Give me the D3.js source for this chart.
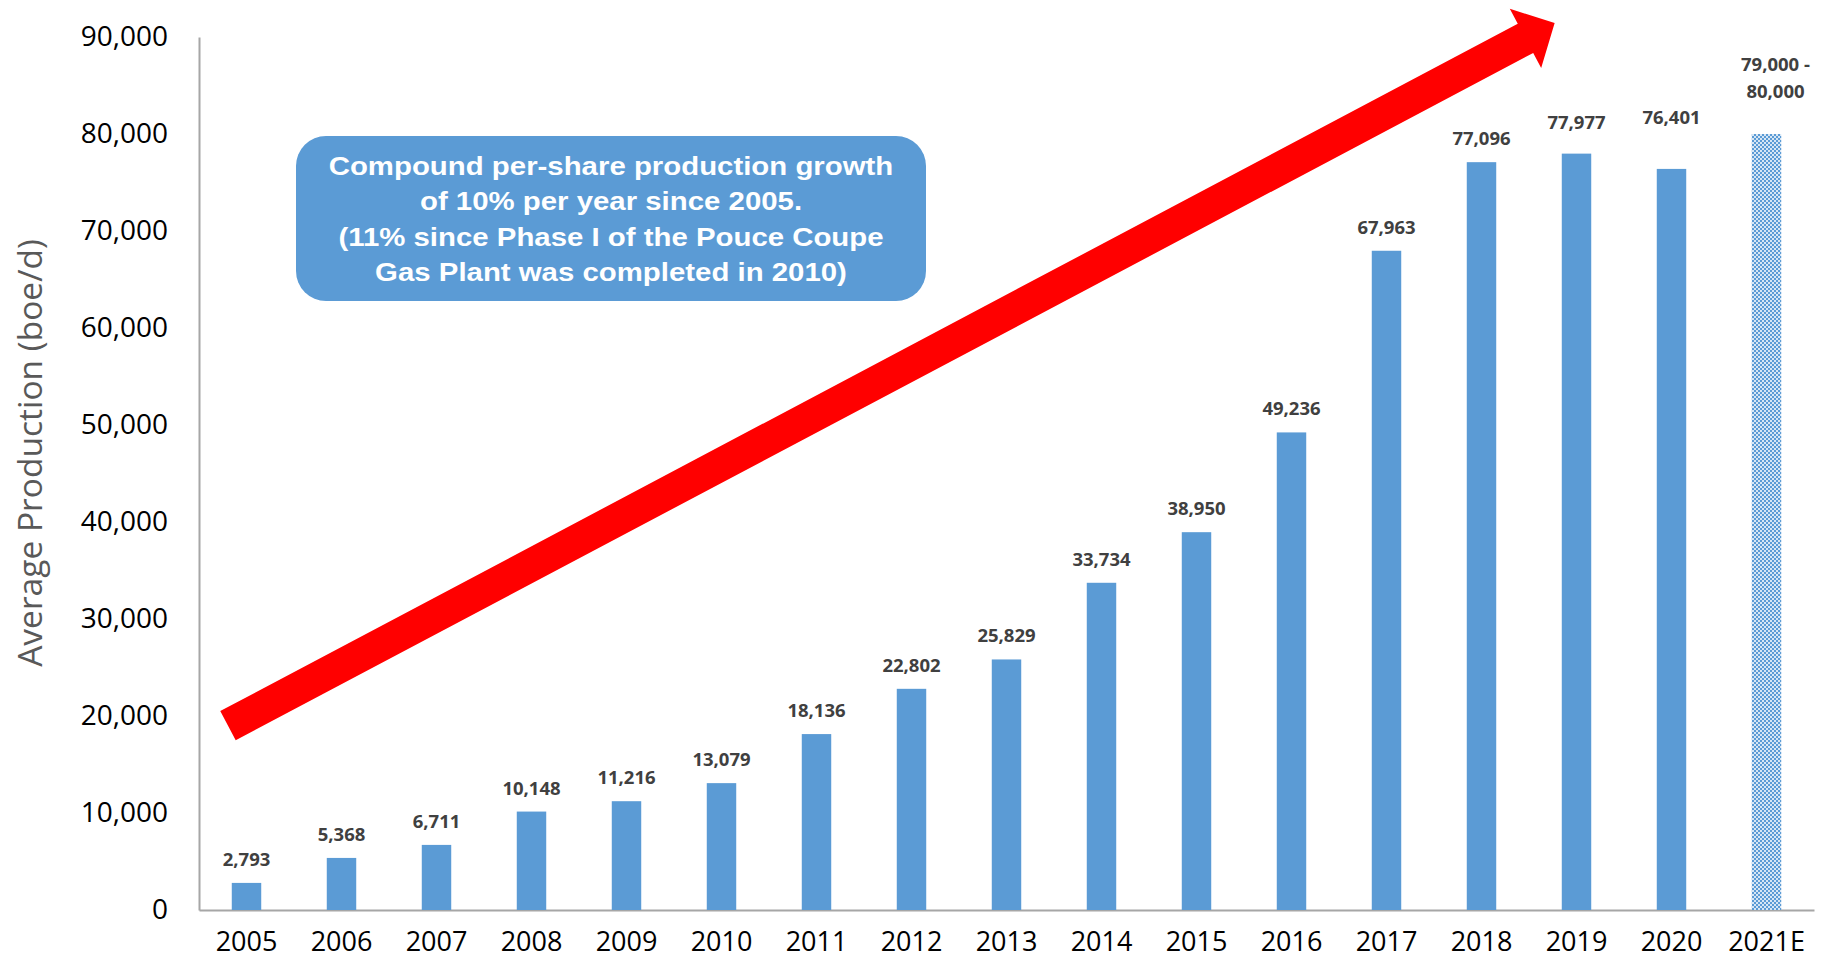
<!DOCTYPE html>
<html>
<head>
<meta charset="utf-8">
<script src="https://cdn.jsdelivr.net/npm/d3@7"></script>
<style>
  html, body { margin: 0; padding: 0; background: #fff; }
  svg { display: block; }
</style>
</head>
<body>
<svg id="chart" width="1826" height="959"></svg>
<script>
// Average production by year (boe/d)
const years = ["2005","2006","2007","2008","2009","2010","2011","2012","2013","2014","2015","2016","2017","2018","2019","2020","2021E"];
const production = [2793, 5368, 6711, 10148, 11216, 13079, 18136, 22802, 25829, 33734, 38950, 49236, 67963, 77096, 77977, 76401, 80000];
const valueLabels = ["2,793","5,368","6,711","10,148","11,216","13,079","18,136","22,802","25,829","33,734","38,950","49,236","67,963","77,096","77,977","76,401","79,000 -|80,000"];
const estimateYears = ["2021E"];
const yTicks = [0, 10000, 20000, 30000, 40000, 50000, 60000, 70000, 80000, 90000];
const yTitle = "Average Production (boe/d)";
const noteLines = [
  "Compound per-share production growth",
  "of 10% per year since 2005.",
  "(11% since Phase I of the Pouce Coupe",
  "Gas Plant was completed in 2010)"
];
// growth arrow endpoints: [category index, production value]
const arrowTail = [-0.195, 19000];
const arrowTip = [13.77, 91450];

const BLUE = "#5b9bd5";
const svg = d3.select("#chart");

const plot = { left: 199, right: 1814, top: 37, bottom: 910 };

const x = d3.scaleBand().domain(years).range([plot.left, plot.right]).padding(0);
const xi = d3.scaleLinear().domain([0, 1]).range([plot.left + x.step() / 2, plot.left + x.step() * 1.5]);
const y = d3.scaleLinear().domain([0, 90000]).range([plot.bottom, plot.top]);
const barW = x.step() * 0.31;

// extra lift (px) for labels that sit higher above their bars
const labelLift = { "2019": 8, "2020": 28 };

// checkered fill for the estimate bar
const defs = svg.append("defs");
const pat = defs.append("pattern").attr("id", "checker")
  .attr("patternUnits", "userSpaceOnUse").attr("width", 4).attr("height", 4);
pat.append("rect").attr("width", 4).attr("height", 4).attr("fill", "#d6e6f5");
pat.append("rect").attr("width", 2).attr("height", 2).attr("fill", BLUE);
pat.append("rect").attr("x", 2).attr("y", 2).attr("width", 2).attr("height", 2).attr("fill", BLUE);

// y axis
const yAxis = svg.append("g").attr("transform", `translate(${plot.left},0)`)
  .call(d3.axisLeft(y).tickValues(yTicks).tickFormat(d3.format(",")).tickSize(0).tickPadding(31));
yAxis.select(".domain").attr("stroke", "#a6a6a6").attr("stroke-width", 2);
yAxis.selectAll("text").attr("font-family", "'Open Sans', sans-serif").attr("font-size", 28).attr("fill", "#000");

// x axis
const xAxis = svg.append("g").attr("transform", `translate(0,${plot.bottom})`)
  .call(d3.axisBottom(x).tickSize(0).tickPadding(22));
xAxis.select(".domain").attr("stroke", "#a6a6a6").attr("stroke-width", 2);
xAxis.selectAll("text").attr("font-family", "'Open Sans', sans-serif").attr("font-size", 27).attr("fill", "#000");

// y axis title
svg.append("text")
  .attr("transform", `translate(33,453) rotate(-90)`)
  .attr("text-anchor", "middle")
  .attr("dominant-baseline", "middle")
  .attr("font-family", "'Open Sans', sans-serif")
  .attr("font-size", 33.5)
  .attr("fill", "#595959")
  .text(yTitle);

// bars
const data = years.map((yr, i) => ({ year: yr, value: production[i], label: valueLabels[i] }));
svg.append("g").selectAll("rect").data(data).join("rect")
  .attr("x", d => x(d.year) + (x.step() - barW) / 2)
  .attr("y", d => y(d.value))
  .attr("width", barW)
  .attr("height", d => y(0) - y(d.value))
  .attr("fill", d => estimateYears.includes(d.year) ? "url(#checker)" : BLUE);

// value labels
const lbl = svg.append("g").attr("font-family", "'Open Sans', sans-serif")
  .attr("font-weight", 700).attr("font-size", 18.5).attr("fill", "#404040").attr("text-anchor", "middle");
data.forEach(d => {
  const cx = x(d.year) + x.step() / 2;
  const parts = d.label.split("|");
  if (parts.length === 1) {
    lbl.append("text").attr("x", cx).attr("y", y(d.value) - 17 - (labelLift[d.year] || 0)).text(parts[0]);
  } else {
    parts.forEach((p, k) => {
      lbl.append("text").attr("x", cx + 9).attr("y", y(d.value) - 36 - (parts.length - 1 - k) * 27).text(p);
    });
  }
});

// growth arrow
(function () {
  const x0 = xi(arrowTail[0]), y0 = y(arrowTail[1]);
  const x1 = xi(arrowTip[0]), y1 = y(arrowTip[1]);
  const len = Math.hypot(x1 - x0, y1 - y0);
  const ux = (x1 - x0) / len, uy = (y1 - y0) / len;
  const px = -uy, py = ux;
  const half = 16.5, headHalf = 33.5, headLen = 33;
  const bx = x1 - ux * headLen, by = y1 - uy * headLen;
  const pts = [
    [x0 + px * half, y0 + py * half],
    [bx + px * half, by + py * half],
    [bx + px * headHalf, by + py * headHalf],
    [x1, y1],
    [bx - px * headHalf, by - py * headHalf],
    [bx - px * half, by - py * half],
    [x0 - px * half, y0 - py * half]
  ];
  svg.append("polygon").attr("points", pts.map(p => p.join(",")).join(" ")).attr("fill", "#ff0000");
})();

// note box
const note = svg.append("g");
note.append("rect").attr("x", 296).attr("y", 136).attr("width", 630).attr("height", 165)
  .attr("rx", 30).attr("ry", 30).attr("fill", BLUE);
note.append("g").attr("transform", "translate(611,0) scale(1.13,1)")
  .selectAll("text").data(noteLines).join("text")
  .attr("x", 0).attr("y", (d, i) => 175 + i * 35.5)
  .attr("text-anchor", "middle")
  .attr("font-family", "'Liberation Sans', Arial, sans-serif")
  .attr("font-weight", 700).attr("font-size", 26).attr("fill", "#fff")
  .text(d => d);
</script>
</body>
</html>
